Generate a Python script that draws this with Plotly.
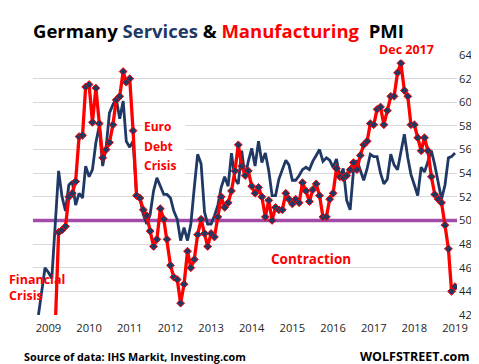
import pandas as pd
import plotly.graph_objects as go

# Monthly data, Jan 2009 .. Apr 2019
start_month = "2009-01-01"
n_months = 124

manufacturing = [
    32.0, 32.1, 32.4, 35.4, 39.6, 41.0, 49.0, 49.2, 49.5, 52.0, 52.3, 53.3,
    57.1, 57.2, 61.3, 61.5, 58.3, 61.2, 58.2, 55.3, 56.0, 56.6, 58.1, 60.2,
    60.5, 62.6, 61.7, 62.0, 57.6, 52.1, 51.9, 50.9, 50.4, 49.1, 47.8, 48.4,
    51.0, 50.1, 48.4, 46.2, 45.2, 45.0, 43.0, 44.6, 47.4, 46.0, 46.7, 48.8,
    50.1, 48.9, 47.8, 48.9, 48.6, 50.3, 52.0, 51.1, 51.5, 52.5, 54.2, 56.4,
    54.6, 53.8, 54.2, 52.9, 52.3, 52.8, 52.0, 50.3, 51.7, 50.0, 51.1, 50.9,
    50.9, 52.3, 51.8, 51.4, 51.8, 51.5, 53.2, 52.5, 51.6, 52.6, 53.1, 52.1,
    50.3, 50.3, 51.8, 52.3, 54.4, 53.7, 53.6, 53.8, 54.3, 54.9, 54.3, 55.5,
    56.4, 56.7, 58.2, 58.1, 59.4, 59.6, 58.1, 59.3, 60.5, 60.5, 62.5, 63.3,
    61.0, 60.5, 58.1, 58.1, 57.0, 55.9, 57.0, 55.9, 53.7, 52.2, 51.8, 51.5,
    49.6, 47.6, 44.0, 44.4,
]

services = [
    42.0, 44.0, 46.0, 45.6, 45.1, 49.7, 54.2, 52.0, 50.8, 53.0, 53.3, 51.3,
    52.3, 51.9, 54.6, 53.7, 54.3, 56.6, 58.0, 54.6, 56.2, 59.1, 59.8, 60.3,
    58.6, 60.1, 56.7, 56.2, 56.7, 52.3, 51.9, 50.5, 49.7, 50.5, 52.5, 53.6,
    52.9, 52.2, 52.2, 51.9, 50.8, 50.1, 48.3, 49.4, 48.3, 49.7, 52.8, 55.6,
    54.8, 50.7, 49.7, 49.7, 50.4, 51.3, 52.8, 53.7, 52.9, 55.7, 53.5, 53.1,
    55.9, 53.6, 55.0, 56.1, 54.6, 56.7, 54.9, 55.7, 54.2, 52.1, 52.1, 53.5,
    54.3, 55.1, 54.7, 53.4, 53.4, 53.8, 54.3, 54.5, 54.3, 55.0, 55.5, 56.0,
    55.0, 55.3, 55.1, 54.5, 55.2, 53.7, 54.4, 51.7, 50.9, 54.2, 55.1, 54.3,
    53.4, 54.4, 55.6, 55.4, 55.4, 54.0, 53.1, 53.5, 55.6, 54.7, 54.3, 55.8,
    57.3, 55.3, 53.9, 53.0, 52.1, 54.5, 54.1, 55.0, 55.9, 54.7, 53.3, 51.8,
    53.0, 55.3, 55.4, 55.7,
]

year_labels = [str(y) for y in range(2009, 2020)]
y_ticks = list(range(42, 65, 2))
threshold = 50

months = pd.date_range(start_month, periods=n_months, freq="MS")
tick_positions = [f"{y}-04-01" for y in year_labels]

NAVY = "#1F3864"
RED = "#FF0000"
PURPLE = "#A24BA8"
FONT = "Open Sans"

x0 = months[0] - pd.Timedelta(days=49)
x1 = months[-1] + pd.Timedelta(days=18)

fig = go.Figure()
# 50 line (expansion / contraction threshold) spanning the axis range
fig.add_trace(go.Scatter(
    x=[x0, x1], y=[threshold, threshold], mode="lines",
    line=dict(color=PURPLE, width=3.5), hoverinfo="skip", name="50",
))
fig.add_trace(go.Scatter(
    x=months, y=services, mode="lines",
    line=dict(color=NAVY, width=2.8), name="Services",
))
fig.add_trace(go.Scatter(
    x=months, y=manufacturing, mode="lines+markers",
    line=dict(color=RED, width=3.3),
    marker=dict(symbol="diamond", size=6, color=NAVY, line=dict(color=RED, width=1)),
    name="Manufacturing",
))

fig.update_layout(
    width=479, height=364,
    margin=dict(l=25, r=30, t=47, b=57, autoexpand=False),
    paper_bgcolor="white", plot_bgcolor="white",
    showlegend=False,
    font=dict(family=FONT, color="#262626"),
    xaxis=dict(
        type="date", range=[x0, x1], automargin=False,
        tickvals=tick_positions, ticktext=year_labels,
        showgrid=False, zeroline=False, showline=False, ticks="",
        tickfont=dict(size=11.2, color="#262626", family=FONT),
        ticklabelstandoff=5,
    ),
    yaxis=dict(
        side="right", range=[42, 64], tickvals=y_ticks, automargin=False,
        showgrid=True, gridcolor="#D9D9D9", gridwidth=1,
        zeroline=False, showline=False, ticks="",
        tickfont=dict(size=11.2, color="#262626", family=FONT),
        ticklabelstandoff=1,
    ),
)

def ann(text, x, y, size=13.5, color=RED, xanchor="center", **kw):
    fig.add_annotation(text=text, x=x, y=y, xref="paper", yref="paper",
                       showarrow=False, xanchor=xanchor, yanchor="middle",
                       font=dict(family=FONT, size=size, color=color), **kw)

title = ("<b>Germany <span style='color:%s'>Services</span> &amp; "
         "<span style='color:%s'>Manufacturing</span>&nbsp; PMI</b>" % (NAVY, RED))
ann(title, -0.004, 1.096, size=18.5, color="black", xanchor="left")

ann("<b>Dec 2017</b>", 0.88, 1.023, size=12.5, bgcolor="white")
for txt, yy in [("Euro", 0.727), ("Debt", 0.650), ("Crisis", 0.577)]:
    ann("<b>%s</b>" % txt, 0.308, yy, size=12, bgcolor="white",
        width=40, height=20, align="left")
ann("<b>Contraction</b>", 0.655, 0.215, size=13.5)
ann("<b>Financial<br>Crisis</b>", -0.062, 0.104, size=12.5, xanchor="left",
    align="left")

ann("<b>Source of data: IHS Markit, Investing.com</b>", -0.026, -0.158, size=10.8,
    color="black", xanchor="left")
ann("<b>WOLFSTREET.com</b>", 1.035, -0.158, size=12.5, color="black", xanchor="right")

fig.write_html("out.html")
